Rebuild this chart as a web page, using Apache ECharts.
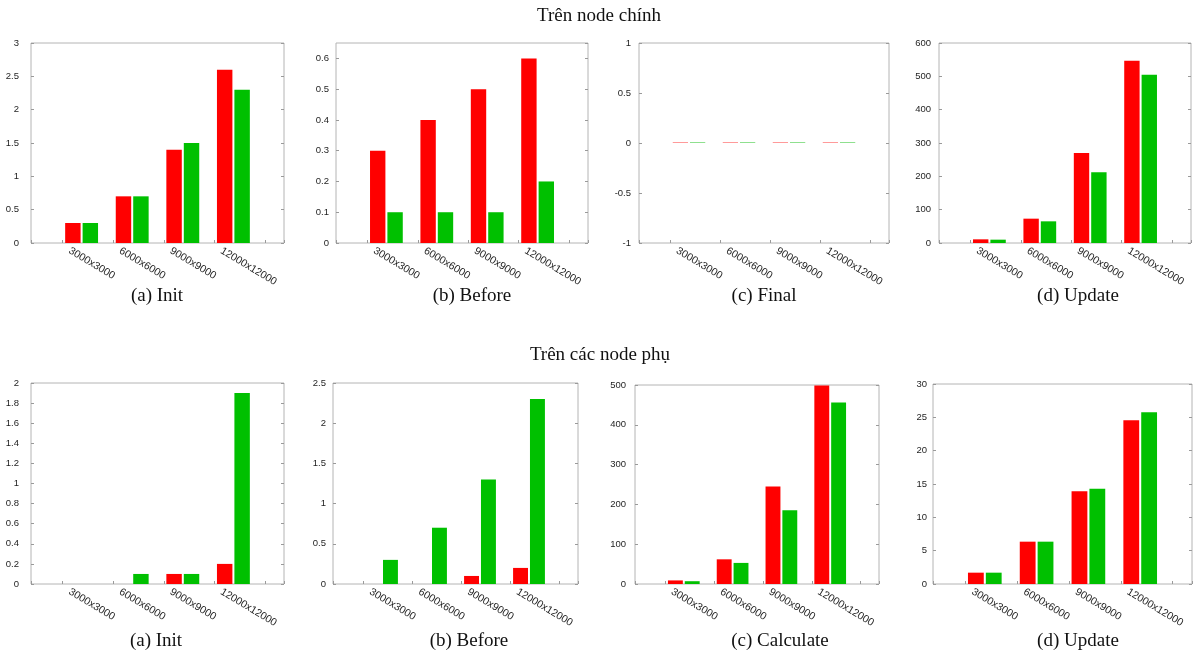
<!DOCTYPE html>
<html>
<head>
<meta charset="utf-8">
<script src="https://cdn.jsdelivr.net/npm/echarts@6/dist/echarts.min.js"></script>
<style>html,body{margin:0;padding:0;background:#fff}#chart{width:1198px;height:657px}</style>
</head>
<body>
<div id="chart"></div>
<script>
// ---- data ----
const categories = ['3000x3000', '6000x6000', '9000x9000', '12000x12000'];
const mainInitRed = [0.3, 0.7, 1.4, 2.6];
const mainInitGreen = [0.3, 0.7, 1.5, 2.3];
const mainBeforeRed = [0.3, 0.4, 0.5, 0.6];
const mainBeforeGreen = [0.1, 0.1, 0.1, 0.2];
const mainFinalRed = [0, 0, 0, 0];
const mainFinalGreen = [0, 0, 0, 0];
const mainUpdateRed = [11, 73, 270, 547];
const mainUpdateGreen = [10, 65, 212, 505];
const subInitRed = [0, 0, 0.1, 0.2];
const subInitGreen = [0, 0.1, 0.1, 1.9];
const subBeforeRed = [0, 0, 0.1, 0.2];
const subBeforeGreen = [0.3, 0.7, 1.3, 2.3];
const subCalcRed = [9, 62, 245, 499];
const subCalcGreen = [7, 53, 185, 456];
const subUpdateRed = [1.7, 6.35, 13.9, 24.55];
const subUpdateGreen = [1.7, 6.35, 14.3, 25.75];
const titleMain = 'Trên node chính';
const titleSub = 'Trên các node phụ';

// ---- layout ----
const panels = [
  {red: mainInitRed, green: mainInitGreen, box: [31, 43, 253, 200], y: [0, 3, 0.5], lm: 12, cap: '(a) Init', cx: 157, cy: 296},
  {red: mainBeforeRed, green: mainBeforeGreen, box: [336, 43, 252, 200], y: [0, 0.65, 0.1], lm: 7, cap: '(b) Before', cx: 472, cy: 296},
  {red: mainFinalRed, green: mainFinalGreen, box: [639, 43, 250, 200], y: [-1, 1, 0.5], lm: 8, cap: '(c) Final', cx: 764, cy: 296, pale: true},
  {red: mainUpdateRed, green: mainUpdateGreen, box: [939, 43, 252, 200], y: [0, 600, 100], lm: 8, cap: '(d) Update', cx: 1078, cy: 296},
  {red: subInitRed, green: subInitGreen, box: [31, 383, 253, 201], y: [0, 2, 0.2], lm: 12, cap: '(a) Init', cx: 156, cy: 641},
  {red: subBeforeRed, green: subBeforeGreen, box: [333, 383, 245, 201], y: [0, 2.5, 0.5], lm: 7, cap: '(b) Before', cx: 469, cy: 641},
  {red: subCalcRed, green: subCalcGreen, box: [635, 385, 244, 199], y: [0, 500, 100], lm: 9, cap: '(c) Calculate', cx: 780, cy: 641},
  {red: subUpdateRed, green: subUpdateGreen, box: [933, 384, 259, 200], y: [0, 30, 5], lm: 6, cap: '(d) Update', cx: 1078, cy: 641}
];

const BORDER = '#b4b4b4';
const TICK = '#9a9a9a';
const LABEL = '#1e1e1e';
const SANS = "'Liberation Sans', Arial, sans-serif";
const SERIF = "'Liberation Serif', 'Times New Roman', serif";

const grid = [], xAxis = [], yAxis = [], series = [], graphic = [];

function isInt(v) { return Math.abs(v - Math.round(v)) < 1e-6; }

panels.forEach((p, i) => {
  const [l, t, w, h] = p.box;
  grid.push({left: l, top: t, width: w, height: h, show: true, borderColor: BORDER, borderWidth: 1, containLabel: false});
  // bar axis
  xAxis.push({type: 'value', gridIndex: i, min: -1, max: 4, position: 'bottom',
    axisLine: {show: false, onZero: false}, axisTick: {show: false}, axisLabel: {show: false}, splitLine: {show: false}});
  // label axis
  xAxis.push({type: 'value', gridIndex: i, min: -0.76, max: 4.24, position: 'bottom',
    axisLine: {show: false, onZero: false}, axisTick: {show: false}, splitLine: {show: false},
    axisLabel: {show: true, rotate: -31, margin: 7, fontSize: 10.5, fontFamily: SANS, color: LABEL,
      formatter: v => (isInt(v) && categories[Math.round(v)] !== undefined) ? categories[Math.round(v)] : ''}});
  // tick axis
  xAxis.push({type: 'value', gridIndex: i, min: -0.625, max: 4.375, position: 'bottom',
    axisLine: {show: false, onZero: false}, axisLabel: {show: false}, splitLine: {show: false},
    axisTick: {show: true, inside: true, length: 3, lineStyle: {color: TICK}}});
  yAxis.push({type: 'value', gridIndex: i, min: p.y[0], max: p.y[1], interval: p.y[2], position: 'left',
    axisLine: {show: false, onZero: false}, splitLine: {show: false},
    axisTick: {show: true, inside: true, length: 3, lineStyle: {color: TICK}},
    axisLabel: {show: true, margin: p.lm, fontSize: 9.5, fontFamily: SANS, color: LABEL, showMaxLabel: isInt(p.y[1] / p.y[2])}});
  yAxis.push({type: 'value', gridIndex: i, min: p.y[0], max: p.y[1], interval: p.y[2], position: 'right',
    axisLine: {show: false, onZero: false}, splitLine: {show: false}, axisLabel: {show: false},
    axisTick: {show: true, inside: true, length: 3, lineStyle: {color: TICK}}});
  const common = {type: 'bar', xAxisIndex: i * 3, yAxisIndex: i * 2, barGap: '13%', barCategoryGap: '35%',
    barMinHeight: p.pale ? 1 : 0, animation: false, silent: true};
  series.push(Object.assign({}, common, {name: 'red' + i,
    data: p.red.map((v, k) => [k, v]),
    itemStyle: {color: p.pale ? '#ff9a9a' : '#ff0000'}}));
  series.push(Object.assign({}, common, {name: 'green' + i,
    data: p.green.map((v, k) => [k, v]),
    itemStyle: {color: p.pale ? '#8fe08f' : '#00c000'}}));
  graphic.push({type: 'text', x: p.cx, y: p.cy, silent: true,
    style: {text: p.cap, fontSize: 19, fontFamily: SERIF, fill: '#111', align: 'center', verticalAlign: 'middle'}});
});

graphic.push({type: 'text', x: 599, y: 16, silent: true,
  style: {text: titleMain, fontSize: 19, fontFamily: SERIF, fill: '#111', align: 'center', verticalAlign: 'middle'}});
graphic.push({type: 'text', x: 600, y: 355, silent: true,
  style: {text: titleSub, fontSize: 19, fontFamily: SERIF, fill: '#111', align: 'center', verticalAlign: 'middle'}});

const chart = echarts.init(document.getElementById('chart'), null, {renderer: 'canvas'});
chart.setOption({animation: false, backgroundColor: '#fff', grid, xAxis, yAxis, series, graphic});
</script>
</body>
</html>
